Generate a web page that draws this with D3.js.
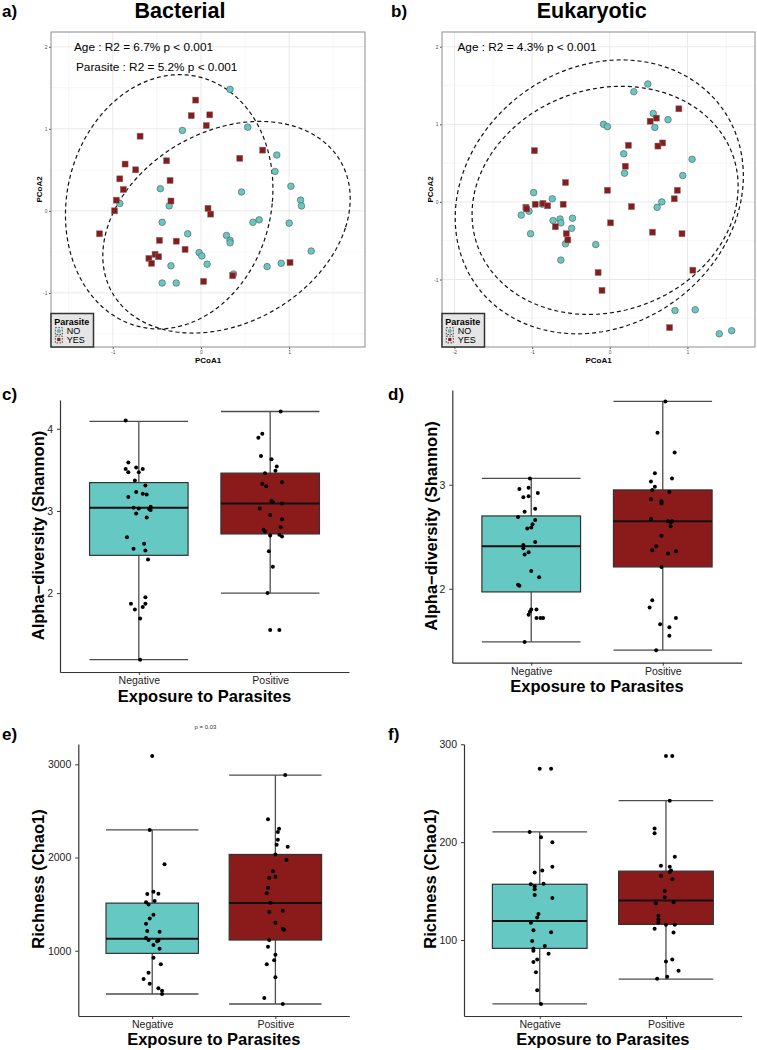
<!DOCTYPE html>
<html>
<head>
<meta charset="utf-8">
<script src="https://cdn.jsdelivr.net/npm/d3@7"></script>
<style>
  body { margin: 0; background: #fff; }
  svg text { font-family: "Liberation Sans", Arial, sans-serif; }
</style>
</head>
<body>
<svg id="fig" width="757" height="1050"></svg>
<script>
var groups = ["Negative", "Positive"];
var teal = "#66c8c3";
var darkred = "#8b1a1a";

// PCoA scores read off panel a) (Bacterial) : [PCoA1, PCoA2]
var bactNo = [[0.33,1.48],[-0.21,0.98],[0.53,1.02],[0.86,0.68],[0.84,0.48],[1.02,0.30],[0.46,0.23],
  [-0.46,0.27],[1.13,0.13],[1.14,0.06],[-0.92,0.09],[-0.36,0.06],[-0.44,-0.14],[0.59,-0.14],[0.66,-0.11],
  [1.00,-0.15],[-0.15,-0.28],[0.29,-0.30],[0.33,-0.36],[0.33,-0.39],[-0.02,-0.51],[0.01,-0.55],[0.07,-0.65],
  [1.25,-0.49],[0.91,-0.64],[0.75,-0.68],[-0.34,-0.67],[0.37,-0.77],[-0.44,-0.88],[-0.28,-0.88]];
var bactYes = [[-0.06,1.35],[-0.11,1.16],[0.10,1.17],[0.06,1.04],[-0.69,0.91],[0.70,0.74],[0.44,0.64],
  [-0.86,0.57],[-0.74,0.50],[-0.39,0.61],[-0.92,0.39],[-0.35,0.37],[-0.88,0.26],[-0.96,0.13],[-0.98,0.0],
  [-0.34,0.12],[0.08,0.03],[0.11,-0.04],[-1.15,-0.28],[-0.47,-0.36],[-0.28,-0.37],[-0.18,-0.47],[-0.52,-0.53],
  [-0.48,-0.56],[-0.59,-0.58],[-0.56,-0.64],[1.01,-0.63],[0.36,-0.79],[0.03,-0.86]];

// PCoA scores read off panel b) (Eukaryotic)
var eukNo = [[0.49,1.52],[0.31,1.42],[0.56,1.14],[0.75,1.06],[0.58,0.96],[-0.08,1.00],[-0.03,0.97],
  [0.18,0.62],[1.06,0.55],[0.19,0.37],[0.94,0.34],[-0.98,0.12],[-0.74,0.04],[0.67,0.0],[0.61,-0.07],
  [-1.04,-0.12],[-1.14,-0.17],[-0.87,-0.03],[-0.73,-0.24],[-0.64,-0.22],[-0.63,-0.27],[-0.48,-0.21],
  [-0.49,-0.34],[-0.57,-0.54],[-1.02,-0.41],[-0.63,-0.75],[-0.18,-0.55],[0.84,-1.40],[1.10,-1.39],
  [1.41,-1.70],[1.57,-1.66]];
var eukYes = [[0.89,1.20],[0.60,1.08],[0.52,1.04],[0.68,0.76],[0.62,0.72],[0.24,0.73],[-0.97,0.66],
  [0.20,0.46],[-0.57,0.25],[-0.03,0.15],[0.87,0.15],[0.83,0.04],[0.28,-0.06],[-1.08,-0.07],[-1.07,-0.09],
  [-0.96,-0.03],[-0.86,-0.02],[-0.80,-0.05],[-0.60,-0.03],[-0.70,-0.32],[-0.56,-0.41],[-0.54,-0.49],
  [0.01,-0.27],[0.55,-0.39],[0.93,-0.41],[1.07,-0.88],[-0.15,-0.91],[-0.10,-1.14],[0.77,-1.62]];

// group ellipses: [centre x, centre y, radius x, radius y, shear]
var bactEllipses = [[-0.36, 0.11, 1.17, 1.55, 0.12], [0.29, -0.20, 1.35, 1.29, 0.38]];
var eukEllipses = [[-0.135, 0.065, 1.833, 1.765, 0.285], [-0.06, 0.02, 1.70, 1.47, 0.21]];

var bactAdonis = ["Age : R2 = 6.7% p < 0.001", "Parasite : R2 = 5.2% p < 0.001"];
var eukAdonis = ["Age : R2 = 4.3% p < 0.001"];

// box stats per group: [lower whisker, Q1, median, Q3, upper whisker]
var bactShannonBox = [[1.19, 2.46, 3.04, 3.345, 4.09], [2.0, 2.72, 3.09, 3.46, 4.21]];
var eukShannonBox = [[1.49, 1.97, 2.41, 2.70, 3.06], [1.41, 2.21, 2.65, 2.95, 3.80]];
var bactChaoBox = [[536, 972, 1129, 1511, 2296], [429, 1115, 1511, 2033, 2885]];
var eukChaoBox = [[34.7, 91.5, 119.4, 157, 210.5], [60, 116, 140.5, 170.4, 242.4]];

// jittered samples: [value, horizontal jitter]
var bactShannonNeg = [[4.10,-0.10],[3.59,-0.08],[3.51,-0.10],[3.47,-0.08],[3.53,-0.02],[3.47,0.00],[3.51,0.03],
  [3.37,-0.03],[3.31,0.05],[3.23,-0.02],[3.21,0.03],[3.20,0.06],[3.17,-0.08],[3.04,-0.04],[3.03,0.00],
  [3.02,0.08],[3.05,0.09],[3.01,0.09],[2.97,-0.02],[2.92,0.06],[2.68,-0.09],[2.54,-0.04],[2.60,0.04],
  [2.52,0.05],[2.41,0.07],[1.87,-0.06],[1.80,-0.03],[1.83,0.03],[1.95,0.05],[1.87,0.05],[1.69,0.01],[1.19,0.01]];
var bactShannonPos = [[4.21,0.08],[3.89,-0.09],[3.94,-0.06],[3.67,-0.07],[3.63,0.01],[3.54,0.05],[3.49,0.04],
  [3.46,-0.04],[3.33,-0.06],[3.30,-0.03],[3.35,0.09],[3.12,0.01],[3.11,0.02],[3.09,0.09],[3.03,-0.08],
  [2.95,0.00],[2.90,0.09],[2.77,-0.05],[2.75,-0.04],[2.80,0.08],[2.70,0.00],[2.71,0.07],[2.69,0.09],
  [2.51,-0.01],[2.32,0.02],[2.00,-0.02],[1.55,0.00],[1.55,0.07]];
var eukShannonNeg = [[3.06,-0.01],[2.96,-0.09],[2.97,-0.02],[2.92,0.05],[2.88,-0.06],[2.89,-0.02],[2.77,0.03],
  [2.74,-0.05],[2.69,-0.10],[2.66,0.03],[2.58,-0.03],[2.59,0.00],[2.62,0.01],[2.42,-0.06],[2.39,-0.06],
  [2.45,0.03],[2.33,-0.05],[2.35,-0.02],[2.17,0.00],[2.11,0.06],[2.04,-0.10],[2.03,-0.09],[1.78,-0.01],
  [1.80,0.00],[1.80,0.04],[1.75,-0.02],[1.72,0.04],[1.72,0.07],[1.72,0.09],[1.49,-0.05]];
var eukShannonPos = [[3.80,0.02],[3.50,-0.04],[3.31,0.09],[3.11,-0.06],[3.06,0.07],[3.03,-0.09],[2.98,-0.06],
  [2.95,-0.08],[2.93,0.05],[2.86,-0.09],[2.84,-0.01],[2.82,-0.01],[2.67,-0.09],[2.65,0.04],[2.65,0.07],
  [2.64,0.06],[2.60,0.06],[2.51,-0.01],[2.41,-0.05],[2.37,-0.08],[2.34,0.04],[2.36,0.10],[2.21,-0.01],
  [1.89,-0.08],[1.82,-0.10],[1.72,0.10],[1.66,-0.02],[1.63,0.05],[1.55,0.05],[1.41,-0.05]];
var bactChaoNeg = [[3089,0.00],[2296,-0.02],[1929,0.10],[1608,-0.04],[1632,0.01],[1611,0.05],[1519,-0.05],
  [1497,-0.03],[1533,0.02],[1386,0.01],[1347,-0.02],[1290,-0.05],[1211,-0.04],[1204,0.06],[1136,-0.05],
  [1115,-0.03],[1101,0.04],[1111,0.05],[1061,0.01],[1021,0.06],[925,0.01],[854,0.07],[764,-0.03],
  [697,-0.07],[646,-0.02],[597,0.05],[571,0.08],[536,0.08]];
var bactChaoPos = [[2885,0.08],[2410,-0.06],[2309,0.03],[2273,0.02],[2191,0.02],[2137,0.01],[2115,0.10],
  [2033,0.00],[1975,0.09],[1854,-0.02],[1782,-0.05],[1793,0.00],[1675,-0.06],[1618,-0.07],[1514,-0.04],
  [1415,-0.05],[1429,0.06],[1300,0.00],[1236,0.06],[1225,0.07],[1115,-0.05],[1043,-0.06],[957,0.00],
  [897,-0.01],[854,-0.07],[715,0.00],[493,-0.09],[429,0.06]];
var eukChaoNeg = [[275,0.00],[275,0.09],[210.5,-0.08],[205,0.01],[200,0.10],[175,0.10],[171,0.02],[169,-0.04],
  [157,-0.07],[155,-0.04],[152,-0.04],[157.5,0.03],[146,-0.04],[143,0.10],[126.5,-0.01],[123,-0.02],
  [117.7,-0.07],[110,-0.05],[108,0.09],[99,-0.06],[94,0.04],[91,-0.05],[89,-0.05],[86,0.07],[80,-0.02],
  [77.5,-0.05],[67,-0.03],[48.6,-0.02],[34.7,0.01]];
var eukChaoPos = [[288,0.00],[288,0.05],[242.4,0.03],[214,-0.09],[209,-0.09],[185,0.07],[176,-0.04],[175,0.03],
  [171,0.04],[169.6,0.03],[165.6,-0.04],[162,0.05],[150,-0.01],[143.6,-0.01],[137.4,-0.08],[138.5,0.06],
  [124.8,-0.06],[121,-0.06],[118,-0.06],[115.6,0.00],[115.6,0.07],[111.5,-0.09],[107.8,0.06],[78,0.00],
  [80,0.05],[68.7,0.10],[62.6,0.01],[60.5,-0.07]];

var svg = d3.select("#fig");
svg.append("rect").attr("width", 757).attr("height", 1050).attr("fill", "#fff");

function label(x, y, txt, size, bold, anchor) {
    return svg.append("text")
        .attr("x", x).attr("y", y)
        .attr("font-size", size)
        .attr("font-weight", bold ? "bold" : "normal")
        .attr("text-anchor", anchor || "start")
        .attr("fill", "#000")
        .text(txt);
}

function pcoaPanel(o) {
    var x = d3.scaleLinear().domain(o.xdom).range([o.x0, o.x1]);
    var y = d3.scaleLinear().domain(o.ydom).range([o.y1, o.y0]);
    var g = svg.append("g");

    g.append("rect").attr("x", o.x0).attr("y", o.y0)
        .attr("width", o.x1 - o.x0).attr("height", o.y1 - o.y0).attr("fill", "#fff");

    // grid, minor at halves and major at whole units
    var xg = d3.range(Math.ceil(o.xdom[0] * 2) / 2, o.xdom[1], 0.5);
    var yg = d3.range(Math.ceil(o.ydom[0] * 2) / 2, o.ydom[1], 0.5);
    g.selectAll(".gx").data(xg).enter().append("line")
        .attr("x1", d => x(d)).attr("x2", d => x(d))
        .attr("y1", o.y0).attr("y2", o.y1)
        .attr("stroke", d => d % 1 === 0 ? "#e6e6e6" : "#f2f2f2")
        .attr("stroke-width", d => d % 1 === 0 ? 0.9 : 0.6);
    g.selectAll(".gy").data(yg).enter().append("line")
        .attr("y1", d => y(d)).attr("y2", d => y(d))
        .attr("x1", o.x0).attr("x2", o.x1)
        .attr("stroke", d => d % 1 === 0 ? "#e6e6e6" : "#f2f2f2")
        .attr("stroke-width", d => d % 1 === 0 ? 0.9 : 0.6);

    var xt = o.ticks.filter(t => t > o.xdom[0] && t < o.xdom[1]);
    var yt = o.ticks.filter(t => t > o.ydom[0] && t < o.ydom[1]);
    var xAxis = g.append("g").attr("transform", "translate(0," + o.y1 + ")")
        .call(d3.axisBottom(x).tickValues(xt).tickFormat(d => String(d)).tickSize(2).tickPadding(1.5));
    var yAxis = g.append("g").attr("transform", "translate(" + o.x0 + ",0)")
        .call(d3.axisLeft(y).tickValues(yt).tickFormat(d => String(d)).tickSize(2).tickPadding(1.5));
    [xAxis, yAxis].forEach(function (a) {
        a.select(".domain").remove();
        a.selectAll("line").attr("stroke", "#555");
        a.selectAll("text").attr("font-size", 5).attr("fill", "#555")
            .attr("font-family", "Liberation Sans, Arial, sans-serif");
    });

    // ellipses
    var angles = d3.range(0, 361, 2).map(d => d * Math.PI / 180);
    var line = d3.line().x(d => x(d[0])).y(d => y(d[1]));
    o.ellipses.forEach(function (e) {
        var pts = angles.map(t => [e[0] + e[2] * Math.cos(t) + e[4] * Math.sin(t), e[1] + e[3] * Math.sin(t)]);
        g.append("path").attr("d", line(pts))
            .attr("fill", "none").attr("stroke", "#111")
            .attr("stroke-width", 1.2).attr("stroke-dasharray", "4,3");
    });

    g.selectAll(".no").data(o.no).enter().append("circle")
        .attr("cx", d => x(d[0])).attr("cy", d => y(d[1])).attr("r", 3.3)
        .attr("fill", teal).attr("stroke", "#555").attr("stroke-width", 0.6);
    g.selectAll(".yes").data(o.yes).enter().append("rect")
        .attr("x", d => x(d[0]) - 3).attr("y", d => y(d[1]) - 3)
        .attr("width", 6).attr("height", 6)
        .attr("fill", darkred).attr("stroke", "#777").attr("stroke-width", 0.5);

    g.append("rect").attr("x", o.x0).attr("y", o.y0)
        .attr("width", o.x1 - o.x0).attr("height", o.y1 - o.y0)
        .attr("fill", "none").attr("stroke", "#8c8c8c").attr("stroke-width", 1);

    o.stats.forEach(function (s, i) {
        label(o.x0 + o.statDx[i], 51 + i * 19.7, s, 11.8, false);
    });

    // axis titles
    label((o.x0 + o.x1) / 2, 363, "PCoA1", 8, true, "middle");
    svg.append("text")
        .attr("transform", "translate(" + (o.x0 - 9.5) + "," + ((o.y0 + o.y1) / 2) + ") rotate(-90)")
        .attr("text-anchor", "middle").attr("font-size", 8).attr("font-weight", "bold")
        .text("PCoA2");

    // legend
    var lg = svg.append("g").attr("transform", "translate(" + o.x0 + "," + (o.y1 - 33.5) + ")");
    lg.append("rect").attr("width", 42.5).attr("height", 33.5)
        .attr("fill", "#e5e5e5").attr("stroke", "#333").attr("stroke-width", 1.5);
    lg.append("text").attr("x", 3.3).attr("y", 11.3).attr("font-size", 9)
        .attr("font-weight", "bold").text("Parasite");
    [["NO", teal, "circle"], ["YES", darkred, "square"]].forEach(function (k, i) {
        var cy = 17.6 + i * 8.4;
        lg.append("rect").attr("x", 4.3).attr("y", cy - 3.4).attr("width", 7).attr("height", 6.8)
            .attr("fill", "none").attr("stroke", "#222").attr("stroke-width", 0.8)
            .attr("stroke-dasharray", "1.6,1.4");
        if (k[2] === "circle") {
            lg.append("circle").attr("cx", 7.8).attr("cy", cy).attr("r", 1.7)
                .attr("fill", k[1]).attr("stroke", "#555").attr("stroke-width", 0.4);
        } else {
            lg.append("rect").attr("x", 6.2).attr("y", cy - 1.6).attr("width", 3.2).attr("height", 3.2)
                .attr("fill", k[1]);
        }
        lg.append("text").attr("x", 15.8).attr("y", cy + 3.3).attr("font-size", 9).text(k[0]);
    });

    label(o.titleX, 17.5, o.title, 21.5, true, "middle");
    label(o.letterX, 17, o.letter, 17, true);
}

function boxPanel(o) {
    var y = d3.scaleLinear().domain(o.ydom).range([o.y1, o.y0]);
    var x = d3.scalePoint().domain(groups).range([o.x0, o.x1]).padding(0.6);
    var step = x.step();
    var bw = 0.75 * step;
    var g = svg.append("g");
    var fills = [teal, darkred];

    o.box.forEach(function (b, i) {
        var cx = x(groups[i]);
        g.append("line").attr("x1", cx).attr("x2", cx).attr("y1", y(b[0])).attr("y2", y(b[4]))
            .attr("stroke", "#4d4d4d").attr("stroke-width", 1.3);
        [b[0], b[4]].forEach(function (v) {
            g.append("line").attr("x1", cx - bw / 2).attr("x2", cx + bw / 2)
                .attr("y1", y(v)).attr("y2", y(v))
                .attr("stroke", "#4d4d4d").attr("stroke-width", 1.3);
        });
        g.append("rect").attr("x", cx - bw / 2).attr("y", y(b[3]))
            .attr("width", bw).attr("height", y(b[1]) - y(b[3]))
            .attr("fill", fills[i]).attr("stroke", "#333").attr("stroke-width", 1.2);
        g.append("line").attr("x1", cx - bw / 2).attr("x2", cx + bw / 2)
            .attr("y1", y(b[2])).attr("y2", y(b[2]))
            .attr("stroke", "#111").attr("stroke-width", 2);
    });

    [o.neg, o.pos].forEach(function (pts, i) {
        var cx = x(groups[i]);
        g.selectAll(".p" + i).data(pts).enter().append("circle")
            .attr("cx", d => cx + d[1] * step).attr("cy", d => y(d[0]))
            .attr("r", 2).attr("fill", "#000");
    });

    var yAxis = g.append("g").attr("transform", "translate(" + o.x0 + ",0)")
        .call(d3.axisLeft(y).tickValues(o.ticks).tickFormat(d => String(d))
            .tickSize(3).tickSizeOuter(0).tickPadding(4));
    var xAxis = g.append("g").attr("transform", "translate(0," + o.y1 + ")")
        .call(d3.axisBottom(x).tickSize(3).tickSizeOuter(0).tickPadding(2));
    [xAxis, yAxis].forEach(function (a) {
        a.select(".domain").attr("stroke", "#333").attr("stroke-width", 1.2);
        a.selectAll(".tick line").attr("stroke", "#333").attr("stroke-width", 1);
        a.selectAll("text").attr("font-size", 10.5).attr("fill", "#222")
            .attr("font-family", "Liberation Sans, Arial, sans-serif");
    });

    label((o.x0 + o.x1) / 2, o.xtitleY, "Exposure to Parasites", 16.5, true, "middle");
    svg.append("text")
        .attr("transform", "translate(" + o.ytitleX + "," + o.ytitleY + ") rotate(-90)")
        .attr("text-anchor", "middle").attr("font-size", 16.5).attr("font-weight", "bold")
        .text(o.ytitle);
    label(o.letterX, o.letterY, o.letter, 17, true);
}

pcoaPanel({x0: 51, x1: 365, y0: 32, y1: 347, xdom: [-1.70, 1.86], ydom: [-1.66, 2.18],
    ticks: [-2, -1, 0, 1, 2], no: bactNo, yes: bactYes, ellipses: bactEllipses,
    stats: bactAdonis, statDx: [23, 25], title: "Bacterial", titleX: 180, letter: "a)", letterX: 2});
pcoaPanel({x0: 442, x1: 755, y0: 32, y1: 347, xdom: [-2.16, 1.87], ydom: [-1.87, 2.19],
    ticks: [-2, -1, 0, 1, 2], no: eukNo, yes: eukYes, ellipses: eukEllipses,
    stats: eukAdonis, statDx: [15.5], title: "Eukaryotic", titleX: 591.7, letter: "b)", letterX: 391});

boxPanel({x0: 60, x1: 349, y0: 400, y1: 672, ydom: [1.04, 4.35], ticks: [2, 3, 4],
    box: bactShannonBox, neg: bactShannonNeg, pos: bactShannonPos,
    ytitle: "Alpha\u2212diversity (Shannon)", ytitleX: 44, ytitleY: 535.5, xtitleY: 701.5,
    letter: "c)", letterX: 2, letterY: 400});
boxPanel({x0: 452.3, x1: 741.7, y0: 390, y1: 662.7, ydom: [1.29, 3.91], ticks: [2, 3],
    box: eukShannonBox, neg: eukShannonNeg, pos: eukShannonPos,
    ytitle: "Alpha\u2212diversity (Shannon)", ytitleX: 436.5, ytitleY: 526, xtitleY: 691.7,
    letter: "d)", letterX: 388, letterY: 400});
boxPanel({x0: 78.3, x1: 349.3, y0: 744, y1: 1016, ydom: [300, 3218], ticks: [1000, 2000, 3000],
    box: bactChaoBox, neg: bactChaoNeg, pos: bactChaoPos,
    ytitle: "Richness (Chao1)", ytitleX: 43.5, ytitleY: 879, xtitleY: 1045,
    letter: "e)", letterX: 2, letterY: 740});
boxPanel({x0: 464, x1: 741.7, y0: 744, y1: 1016, ydom: [22.4, 300.3], ticks: [100, 200, 300],
    box: eukChaoBox, neg: eukChaoNeg, pos: eukChaoPos,
    ytitle: "Richness (Chao1)", ytitleX: 436, ytitleY: 879, xtitleY: 1045,
    letter: "f)", letterX: 388, letterY: 740});

svg.append("text").attr("x", 205.5).attr("y", 729).attr("font-size", 6)
    .attr("text-anchor", "middle").attr("fill", "#333").text("p = 0.03");
</script>
</body>
</html>
